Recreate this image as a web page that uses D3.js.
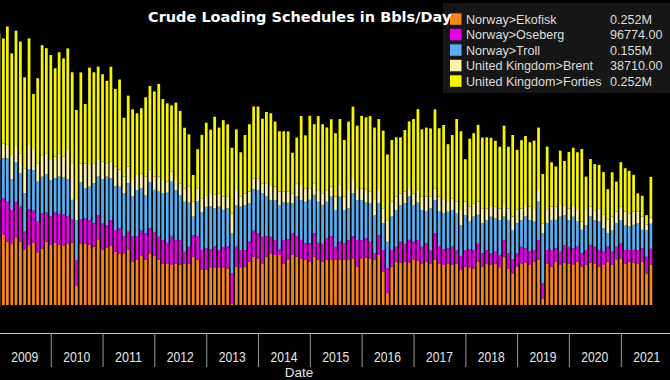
<!DOCTYPE html>
<html><head><meta charset="utf-8">
<script src="https://cdn.jsdelivr.net/npm/d3@7"></script>
<style>html,body{margin:0;padding:0;background:#000;overflow:hidden}svg{display:block}</style>
</head><body>
<svg id="c" width="670" height="380"></svg>
<script>
// ---- data (thousand barrels per day), monthly from Jan 2009 ----
const years = [2009,2010,2011,2012,2013,2014,2015,2016,2017,2018,2019,2020,2021];
const seriesNames = ["Norway>Ekofisk","Norway>Oseberg","Norway>Troll","United Kingdom>Brent","United Kingdom>Forties"];
const legendValues = ["0.252M","96774.00","0.155M","38710.00","0.252M"];
const titleText = "Crude Loading Schedules in Bbls/Day";
const axisTitle = "Date";

const ekofisk = [424,434,393,378,420,393,341,372,387,327,351,393,372,387,372,366,378,387,118,378,378,372,362,403,341,358,366,331,320,320,
341,269,279,304,279,320,304,279,258,254,248,258,252,258,258,300,279,221,217,234,234,234,234,227,10,238,234,238,269,300,
289,258,300,316,310,310,258,283,310,300,289,279,269,300,279,269,279,283,279,279,279,279,289,238,289,294,289,279,310,207,
74,238,269,263,269,263,279,275,258,269,258,279,254,248,254,248,254,217,238,234,227,269,238,254,252,258,234,300,227,196,
238,254,263,248,269,279,41,258,238,269,248,263,258,252,269,238,248,263,258,238,248,269,248,279,289,258,269,263,258,269,
196,252];
const oseberg = [227,227,248,211,221,217,114,221,198,190,217,180,180,186,192,196,174,145,161,153,159,155,145,155,165,138,161,134,155,107,
114,155,149,157,165,155,147,145,145,132,176,145,151,72,103,134,149,120,134,112,128,107,124,138,186,124,107,103,124,161,
155,165,128,107,93,35,145,124,134,128,114,103,114,145,107,110,134,145,83,114,103,124,138,165,114,120,103,41,124,134,
155,103,93,130,110,141,114,128,103,114,83,165,112,97,97,114,87,87,103,112,114,110,83,87,68,72,76,103,93,87,
83,107,89,83,72,124,93,83,103,83,83,107,103,99,93,83,93,110,103,103,83,93,83,83,93,83,72,79,83,83,
103,96.774];
const troll = [248,248,269,190,242,207,238,248,252,248,227,238,223,213,232,229,227,120,248,229,186,207,248,238,273,300,258,273,258,265,
300,248,285,263,238,285,263,279,289,310,341,310,279,310,273,114,213,232,258,265,238,269,232,234,248,258,269,279,238,256,
269,269,248,227,248,275,232,227,186,244,248,258,269,238,254,242,227,244,227,279,207,196,265,248,248,221,238,238,196,165,
163,207,227,227,252,269,227,232,227,196,258,207,213,223,227,227,227,192,217,172,207,180,186,186,227,207,217,145,207,182,
186,165,196,196,176,238,310,165,186,176,217,186,165,196,155,145,155,176,165,176,145,83,134,145,145,155,145,155,165,114,
165,155];
const brent = [83,93,83,151,103,124,155,151,124,114,134,130,124,134,145,128,182,227,124,118,155,134,124,103,110,83,103,120,107,103,
103,103,93,93,114,81,83,93,83,68,62,62,72,83,99,93,83,89,72,83,83,83,83,72,124,93,62,72,72,68,
72,62,79,93,83,83,68,68,62,83,93,83,72,72,72,72,72,62,83,72,83,114,83,62,72,79,72,93,83,93,
134,93,83,72,72,52,72,79,83,93,72,72,93,83,72,72,72,93,83,93,83,83,93,72,72,72,72,72,72,83,
83,72,72,83,72,72,62,83,83,83,72,62,72,72,72,52,93,62,62,83,83,83,83,72,83,83,83,83,72,83,
35,38.71];
const forties = [703,651,734,630,715,692,564,661,347,527,682,651,651,548,626,610,630,564,558,564,368,604,564,579,542,511,589,482,558,366,
440,438,382,403,492,517,527,575,502,486,411,480,449,376,325,165,242,393,449,393,484,407,473,449,407,376,275,362,418,446,
446,401,442,446,403,374,374,374,252,283,428,329,449,366,459,428,389,418,393,409,351,424,455,399,449,449,469,449,440,482,
407,382,368,347,382,413,461,500,418,428,424,490,424,465,347,393,513,488,263,420,434,475,438,440,418,409,382,492,382,506,
372,424,428,399,430,387,306,393,275,248,337,275,351,356,358,449,207,294,285,269,265,190,275,186,275,269,263,227,114,128,
58,252];

const colors = ["#f7861c","#e600e6","#58aef0","#fbf3a6","#f5f500"];
const months = d3.timeMonth.range(new Date(2009,0,1), new Date(2021,8,1));
const table = months.map((m,i)=>({date:m, e:ekofisk[i], o:oseberg[i], t:troll[i], b:brent[i], f:forties[i]}));
const keys = ["e","o","t","b","f"];

const svg = d3.select("#c");
svg.append("rect").attr("width",670).attr("height",380).attr("fill","#000");

const x = d3.scaleTime().domain([new Date(2009,0,1), new Date(2022,0,1)]).range([-1.02, 672.6]);
const y = d3.scaleLinear().domain([0,1860]).range([305,5]);
const bw = 2.75;

const stacked = d3.stack().keys(keys)(table);
svg.append("g").selectAll("g").data(stacked).join("g")
  .attr("fill",(d,i)=>colors[i])
  .selectAll("rect").data(d=>d).join("rect")
  .attr("x",d=>x(d.data.date)-bw/2)
  .attr("width",bw)
  .attr("y",d=>y(d[1]))
  .attr("height",d=>Math.max(0,y(d[0])-y(d[1])));

// x axis
const axis = d3.axisBottom(x)
  .tickValues(years.map(yr=>new Date(yr,0,1)))
  .tickSize(34).tickSizeOuter(0).tickFormat("");
const ag = svg.append("g").attr("transform","translate(0,333)").call(axis);
ag.select(".domain").attr("stroke","#c8c8c8").attr("stroke-width",1.2);
ag.selectAll(".tick line").attr("stroke","#9a9a9a");

svg.append("g").selectAll("text").data(years).join("text")
  .attr("x",yr=>(x(new Date(yr,0,1))+x(new Date(yr+1,0,1)))/2)
  .attr("y",361.5)
  .attr("text-anchor","middle")
  .attr("font-family","Liberation Sans, Arial, sans-serif")
  .attr("font-size",15)
  .attr("textLength",27).attr("lengthAdjust","spacingAndGlyphs")
  .attr("fill","#e6e6e6")
  .text(yr=>yr);

svg.append("text").attr("x",299).attr("y",377).attr("text-anchor","middle")
  .attr("font-family","Liberation Sans, Arial, sans-serif").attr("font-size",13.5)
  .attr("fill","#e6e6e6").text(axisTitle);

// legend
const lg = svg.append("g");
lg.append("rect").attr("x",443).attr("y",3).attr("width",240).attr("height",90).attr("fill","#161616");
const rowY = [19,34.5,50,65.5,81];
seriesNames.forEach((n,i)=>{
  lg.append("rect").attr("x",450).attr("y",rowY[i]-5.7).attr("width",11.5).attr("height",11.5).attr("fill",colors[i]);
  lg.append("text").attr("x",466).attr("y",rowY[i]+4.6)
    .attr("font-family","Liberation Sans, Arial, sans-serif").attr("font-size",12.6)
    .attr("fill","#dedede").text(n);
  lg.append("text").attr("x",610).attr("y",rowY[i]+4.6)
    .attr("font-family","Liberation Sans, Arial, sans-serif").attr("font-size",12.6)
    .attr("fill","#dedede").text(legendValues[i]);
});

// title
svg.append("text").attr("x",148).attr("y",21.5)
  .attr("font-family","DejaVu Sans, Verdana, sans-serif").attr("font-weight","bold").attr("font-size",14.5)
  .attr("fill","#ffffff").text(titleText);
</script>
</body></html>
